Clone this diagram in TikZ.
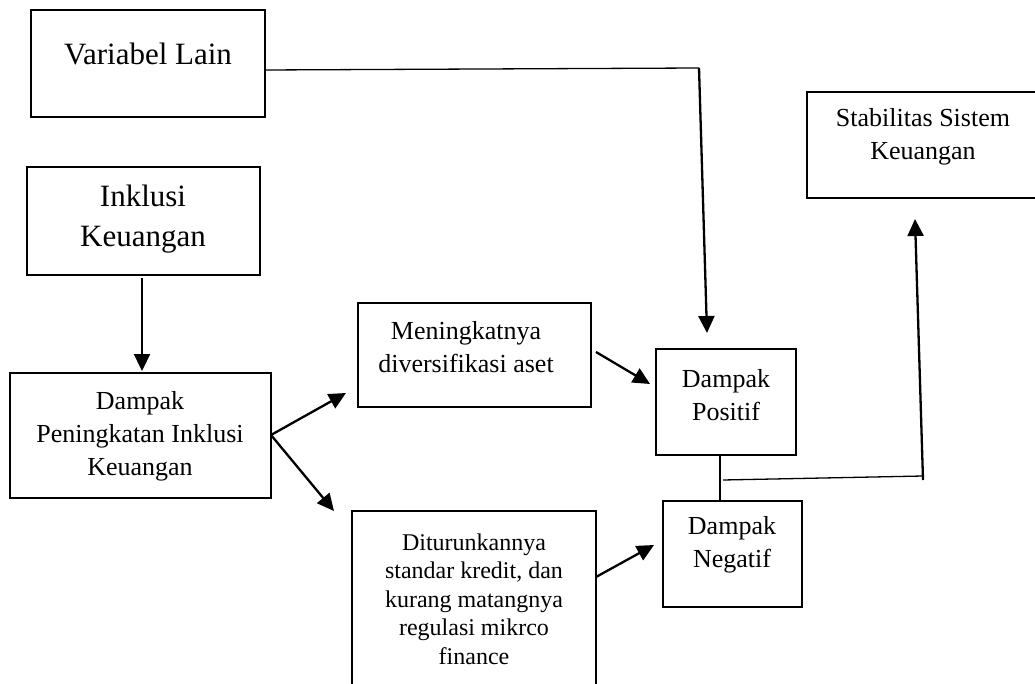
\documentclass[tikz,border=0pt]{standalone}
\usepackage{fontspec}
\setmainfont{Liberation Serif}
\usetikzlibrary{arrows.meta,calc}
\begin{document}
\begin{tikzpicture}[x=1pt,y=-1pt,
  box/.style={draw,line width=2.6pt,rectangle,inner sep=0pt},
  txt/.style={align=center,inner sep=0pt},
  big/.style={font=\fontsize{31}{40}\selectfont},
  mid/.style={font=\fontsize{26}{33}\selectfont},
  sml/.style={font=\fontsize{24}{28.5}\selectfont},
  arr/.style={line width=2.3pt,-{Triangle[length=17pt,width=16pt]}},
  thin/.style={line width=1.3pt}]
\useasboundingbox (0,0) rectangle (1035,684);
% boxes
\draw[box] (31,10) rectangle (265,117);
\node[txt,big] (vl) at (148,54) {Variabel Lain};
\coordinate (vlE) at (265,70);

\draw[box] (27,167) rectangle (260,275);
\node[txt,big] (ik) at (143,219) {Inklusi\\Keuangan};

\draw[box] (10,373) rectangle (271,498);
\node[txt,mid] (dp) at (140,436) {Dampak\\Peningkatan Inklusi\\Keuangan};

\draw[box] (358,303) rectangle (591,407);
\node[txt,mid] (md) at (466,347) {Meningkatnya\\diversifikasi aset};

\draw[box] (352,511) rectangle (596,700);
\node[txt,sml] (ds) at (474,599) {Diturunkannya\\standar kredit, dan\\kurang matangnya\\regulasi mikrco\\finance};

\draw[box] (656,349) rectangle (796,455);
\node[txt,mid] (pos) at (726,395) {Dampak\\Positif};

\draw[box] (663,501) rectangle (802,607);
\node[txt,mid] (neg) at (732,545) {Dampak\\Negatif};

\draw[box] (807,92) rectangle (1040,198);
\node[txt,mid] (ssk) at (923,137) {Stabilitas Sistem\\Keuangan};

% coordinates
\coordinate (c1) at (699,68);
\coordinate (t1) at (707,333);
\coordinate (ikB) at (142,278);
\coordinate (t2) at (142,371);
\coordinate (dpE) at (271,435);
\coordinate (t3) at (346,393);
\coordinate (t4) at (334,511);
\coordinate (mdE) at (596,352);
\coordinate (t5) at (650,384);
\coordinate (dsE) at (596,577);
\coordinate (t6) at (654,545);
\coordinate (posB) at (720,455);
\coordinate (negT) at (720,501);
\coordinate (h1) at (723,480);
\coordinate (h2) at (923,476);
\coordinate (h3) at (923,480);
\coordinate (t7) at (915,219);

% connectors
\draw[thin] (vlE) -- (c1);
\draw[arr] (c1) -- (t1);
\draw[arr] (ikB) -- (t2);
\draw[arr] (dpE) -- (t3);
\draw[arr] (dpE) -- (t4);
\draw[arr] (mdE) -- (t5);
\draw[arr] (dsE) -- (t6);
\draw[thin] (posB) -- (negT);
\draw[thin] (h1) -- (h2);
\draw[arr] (h3) -- (t7);
\end{tikzpicture}
\end{document}
